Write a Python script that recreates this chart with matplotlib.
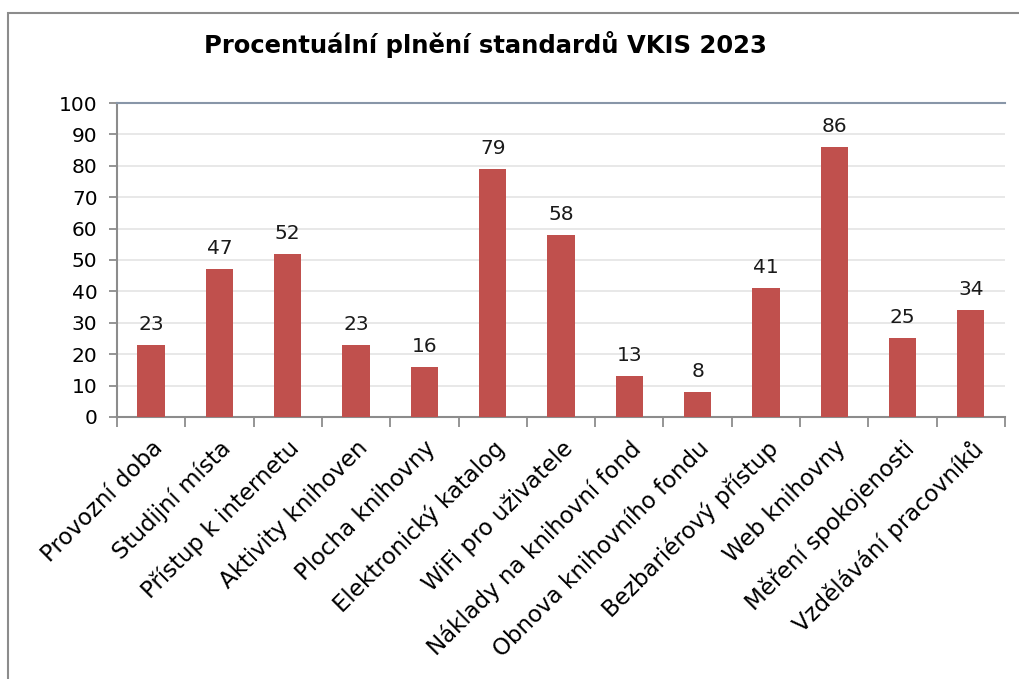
import matplotlib.pyplot as plt
from matplotlib.patches import Rectangle

kategorie = ["Provozní doba", "Studijní místa", "Přístup k internetu",
             "Aktivity knihoven", "Plocha knihovny", "Elektronický katalog",
             "WiFi pro uživatele", "Náklady na knihovní fond",
             "Obnova knihovního fondu", "Bezbariérový přístup",
             "Web knihovny", "Měření spokojenosti", "Vzdělávání pracovníků"]
plneni = [23, 47, 52, 23, 16, 79, 58, 13, 8, 41, 86, 25, 34]
y_ticks = list(range(0, 101, 10))

plt.rcParams['font.family'] = ['DejaVu Sans']

fig = plt.figure(figsize=(10.19, 6.79), dpi=100)
ax = fig.add_axes([0.1148, 0.3859, 0.8714, 0.4624])

# ramecek grafu
fig.patches.append(Rectangle((8/1019, -0.1), 1.2, 1 - 13/679 + 0.1,
                             transform=fig.transFigure, fill=False,
                             edgecolor='#8c8c8c', linewidth=1.5))

x = range(len(kategorie))
bars = ax.bar(x, plneni, width=0.4, color='#C0504D', zorder=3)
for b, v in zip(bars, plneni):
    ax.annotate(str(v), (b.get_x() + b.get_width()/2, v),
                xytext=(0, 8), textcoords='offset points',
                ha='center', va='bottom', fontsize=14.5, color='#1a1a1a')

ax.set_xlim(-0.5, len(kategorie) - 0.5)
ax.set_ylim(0, 100)
ax.set_yticks(y_ticks)
ax.yaxis.grid(True, color='#e6e6e6', linewidth=1.3, zorder=0)
ax.set_xticks([i - 0.5 for i in range(len(kategorie) + 1)])
ax.set_xticklabels([])
ax.set_xticks(list(x), minor=True)
ax.set_xticklabels(kategorie, minor=True, rotation=45, ha='right',
                   rotation_mode='anchor', fontsize=16.5)
ax.tick_params(axis='x', which='minor', length=0, pad=14)
ax.tick_params(axis='x', which='major', length=7, color='#8c8c8c', width=1.3)
ax.tick_params(axis='y', length=6, color='#8c8c8c', width=1.3,
               labelsize=14.5, pad=8)

for s in ['left', 'bottom']:
    ax.spines[s].set_color('#8c8c8c')
    ax.spines[s].set_linewidth(1.5)
ax.spines['right'].set_visible(False)
ax.spines['top'].set_color('#8896a8')
ax.spines['top'].set_linewidth(1.5)

fig.text(0.476, 0.934, "Procentuální plnění standardů VKIS 2023",
         ha='center', va='center', fontsize=17.5, fontweight='bold')

fig.savefig("out.png", dpi=100)
